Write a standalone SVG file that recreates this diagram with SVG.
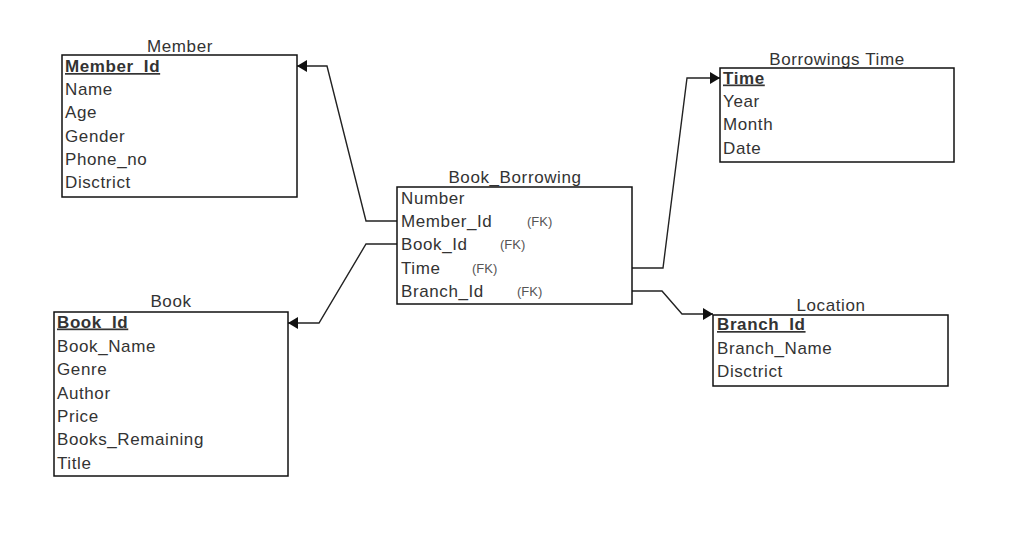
<svg xmlns="http://www.w3.org/2000/svg" width="1015" height="557" viewBox="0 0 1015 557">
<defs>
<marker id="arr" markerUnits="userSpaceOnUse" markerWidth="11" markerHeight="12" refX="10" refY="6" orient="auto">
<path d="M0,0 L10,6 L0,12 z" fill="#111"/>
</marker>
<style>
text{font-family:"Liberation Sans",Arial,sans-serif;font-size:17px;letter-spacing:0.6px;fill:#333}
.t{text-anchor:middle}
.pk{font-weight:bold;text-decoration:underline}
.fk{font-size:13px;letter-spacing:0;fill:#555}
.box{fill:#fff;stroke:#111;stroke-width:1.5}
.c{fill:none;stroke:#222;stroke-width:1.4}
</style>
</defs>
<rect width="1015" height="557" fill="#fff"/>
<g id="connectors">
<path class="c" d="M397,221 L366,221 L327,66 L297,66" marker-end="url(#arr)"/>
<path class="c" d="M397,244 L366,244 L319,323 L288,323" marker-end="url(#arr)"/>
<path class="c" d="M632,268 L663,268 L687,78 L720,78" marker-end="url(#arr)"/>
<path class="c" d="M632,291 L662,291 L682,314 L713,314" marker-end="url(#arr)"/>
</g>
<g id="member">
<text class="t" x="180" y="52">Member</text>
<rect class="box" x="62" y="55" width="235" height="142"/>
<text class="pk" x="65" y="72">Member_Id</text>
<text x="65" y="95">Name</text>
<text x="65" y="118">Age</text>
<text x="65" y="141.5">Gender</text>
<text x="65" y="165">Phone_no</text>
<text x="65" y="188">Disctrict</text>
</g>
<g id="book">
<text class="t" x="171" y="307">Book</text>
<rect class="box" x="54" y="312" width="234" height="164"/>
<text class="pk" x="57" y="327.5">Book_Id</text>
<text x="57" y="351.5">Book_Name</text>
<text x="57" y="375">Genre</text>
<text x="57" y="398.5">Author</text>
<text x="57" y="421.5">Price</text>
<text x="57" y="445">Books_Remaining</text>
<text x="57" y="468.5">Title</text>
</g>
<g id="book_borrowing">
<text class="t" x="515" y="183">Book_Borrowing</text>
<rect class="box" x="397" y="187" width="235" height="117"/>
<text x="401" y="203.5">Number</text>
<text x="401" y="227">Member_Id</text>
<text x="401" y="250">Book_Id</text>
<text x="401" y="273.5">Time</text>
<text x="401" y="296.5">Branch_Id</text>
<text class="fk" x="527" y="226">(FK)</text>
<text class="fk" x="500" y="249">(FK)</text>
<text class="fk" x="472" y="272.5">(FK)</text>
<text class="fk" x="517" y="295.5">(FK)</text>
</g>
<g id="borrowings_time">
<text class="t" x="837" y="65">Borrowings Time</text>
<rect class="box" x="720" y="68" width="234" height="94"/>
<text class="pk" x="723" y="83.5">Time</text>
<text x="723" y="107">Year</text>
<text x="723" y="130">Month</text>
<text x="723" y="153.5">Date</text>
</g>
<g id="location">
<text class="t" x="831" y="311">Location</text>
<rect class="box" x="713" y="315" width="235" height="71"/>
<text class="pk" x="717" y="330">Branch_Id</text>
<text x="717" y="354">Branch_Name</text>
<text x="717" y="377">Disctrict</text>
</g>
</svg>
